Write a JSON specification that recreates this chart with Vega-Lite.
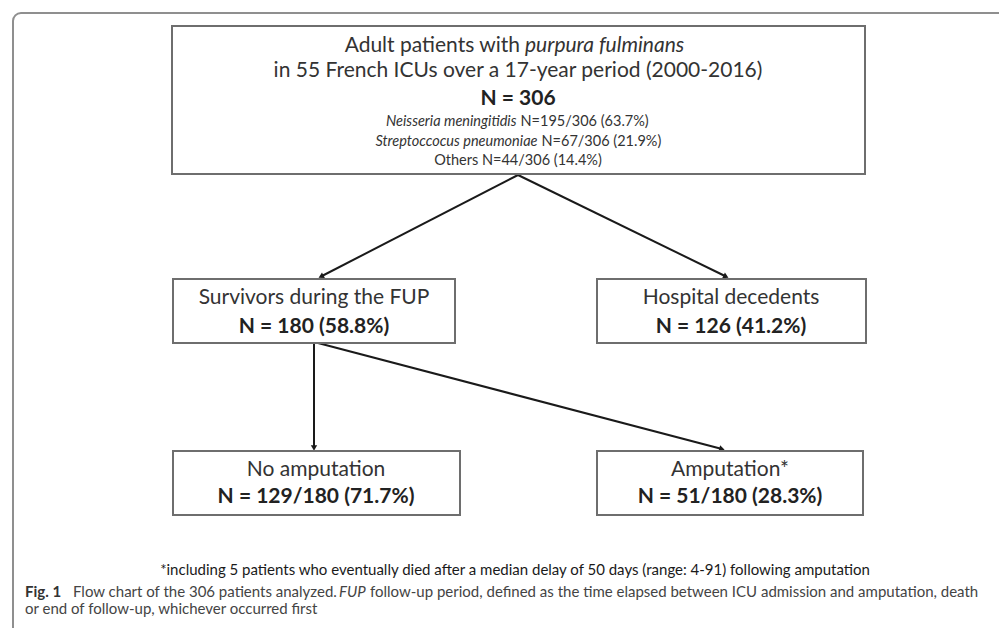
{
  "$schema": "https://vega.github.io/schema/vega-lite/v6.json",
  "width": 999,
  "height": 628,
  "autosize": {"type": "fit", "contains": "padding"},
  "padding": 0,
  "background": "white",
  "config": {"view": {"stroke": null}, "text": {"font": "Lato"}},
  "datasets": {
    "frame": [{"x1": 13, "x2": 1012, "y1": 13, "y2": 645}],
    "boxes": [
      {"node": "All patients", "x1": 172, "x2": 865, "y1": 26, "y2": 174},
      {"node": "Survivors", "x1": 173, "x2": 455, "y1": 279, "y2": 343},
      {"node": "Decedents", "x1": 597, "x2": 866, "y1": 279, "y2": 343},
      {"node": "No amputation", "x1": 173, "x2": 460, "y1": 451, "y2": 515},
      {"node": "Amputation", "x1": 597, "x2": 863, "y1": 451, "y2": 515}
    ],
    "edges": [
      {"from": "All patients", "to": "Survivors", "x1": 518, "y1": 175, "x2": 321, "y2": 276.5, "heading": 62.6},
      {"from": "All patients", "to": "Decedents", "x1": 518, "y1": 175, "x2": 726, "y2": 276.5, "heading": 296.1},
      {"from": "Survivors", "to": "No amputation", "x1": 314, "y1": 343, "x2": 314, "y2": 448, "heading": 0},
      {"from": "Survivors", "to": "Amputation", "x1": 318, "y1": 343, "x2": 722, "y2": 449, "heading": 284.7}
    ],
    "labels": [
      {"role": "titleR", "x": 520, "y": 46, "text": "Adult patients with"},
      {"role": "titleI", "x": 525, "y": 46, "text": "purpura fulminans"},
      {"role": "title", "x": 518, "y": 71, "text": "in 55 French ICUs over a 17-year period (2000-2016)"},
      {"role": "count", "x": 518, "y": 99, "text": "N = 306"},
      {"role": "smallI", "x": 516.5, "y": 122, "text": "Neisseria meningitidis"},
      {"role": "smallN", "x": 520.5, "y": 122, "text": "N=195/306 (63.7%)"},
      {"role": "smallI", "x": 537.5, "y": 142, "text": "Streptoccocus pneumoniae"},
      {"role": "smallN", "x": 541.5, "y": 142, "text": "N=67/306 (21.9%)"},
      {"role": "small", "x": 518, "y": 161, "text": "Others N=44/306 (14.4%)"},
      {"role": "title", "x": 314, "y": 298, "text": "Survivors during the FUP"},
      {"role": "count", "x": 314, "y": 327, "text": "N = 180 (58.8%)"},
      {"role": "title", "x": 731, "y": 298, "text": "Hospital decedents"},
      {"role": "count", "x": 731, "y": 327, "text": "N = 126 (41.2%)"},
      {"role": "title", "x": 316, "y": 470, "text": "No amputation"},
      {"role": "count", "x": 316, "y": 497, "text": "N = 129/180 (71.7%)"},
      {"role": "title", "x": 730, "y": 470, "text": "Amputation*"},
      {"role": "count", "x": 730, "y": 497, "text": "N = 51/180 (28.3%)"},
      {"role": "note", "x": 515, "y": 570, "text": "*including 5 patients who eventually died after a median delay of 50 days (range: 4-91) following amputation"},
      {"role": "capB", "x": 25, "y": 592, "text": "Fig. 1"},
      {"role": "cap", "x": 73, "y": 592, "text": "Flow chart of the 306 patients analyzed."},
      {"role": "capI", "x": 339, "y": 592, "text": "FUP"},
      {"role": "cap", "x": 370, "y": 592, "text": "follow-up period, defined as the time elapsed between ICU admission and amputation, death"},
      {"role": "cap", "x": 25, "y": 609, "text": "or end of follow-up, whichever occurred first"}
    ]
  },
  "layer": [
    {
      "data": {"name": "frame"},
      "mark": {"type": "rect", "fill": null, "fillOpacity": 0, "stroke": "#8f8f8f", "strokeWidth": 2, "cornerRadius": 8, "clip": true},
      "encoding": {
        "x": {"field": "x1", "type": "quantitative", "scale": {"domain": [0, 999], "nice": false, "zero": false}, "axis": null},
        "x2": {"field": "x2"},
        "y": {"field": "y1", "type": "quantitative", "scale": {"domain": [0, 628], "nice": false, "zero": false, "reverse": true}, "axis": null},
        "y2": {"field": "y2"}
      }
    },
    {
      "data": {"name": "edges"},
      "mark": {"type": "rule", "stroke": "#1a1a1a", "strokeWidth": 2},
      "encoding": {
        "x": {"field": "x1", "type": "quantitative", "scale": {"domain": [0, 999], "nice": false, "zero": false}, "axis": null},
        "x2": {"field": "x2"},
        "y": {"field": "y1", "type": "quantitative", "scale": {"domain": [0, 628], "nice": false, "zero": false, "reverse": true}, "axis": null},
        "y2": {"field": "y2"}
      }
    },
    {
      "data": {"name": "edges"},
      "mark": {"type": "point", "shape": "triangle-down", "filled": true, "fill": "#1a1a1a", "opacity": 1, "size": 40, "strokeWidth": 0},
      "encoding": {
        "x": {"field": "x2", "type": "quantitative", "scale": {"domain": [0, 999], "nice": false, "zero": false}, "axis": null},
        "y": {"field": "y2", "type": "quantitative", "scale": {"domain": [0, 628], "nice": false, "zero": false, "reverse": true}, "axis": null},
        "angle": {"field": "heading", "type": "quantitative", "scale": null}
      }
    },
    {
      "data": {"name": "boxes"},
      "mark": {"type": "rect", "fill": "white", "stroke": "#6e6e6e", "strokeWidth": 2},
      "encoding": {
        "x": {"field": "x1", "type": "quantitative", "scale": {"domain": [0, 999], "nice": false, "zero": false}, "axis": null},
        "x2": {"field": "x2"},
        "y": {"field": "y1", "type": "quantitative", "scale": {"domain": [0, 628], "nice": false, "zero": false, "reverse": true}, "axis": null},
        "y2": {"field": "y2"}
      }
    },
    {
      "data": {"name": "labels"},
      "encoding": {
        "x": {"field": "x", "type": "quantitative", "scale": {"domain": [0, 999], "nice": false, "zero": false}, "axis": null},
        "y": {"field": "y", "type": "quantitative", "scale": {"domain": [0, 628], "nice": false, "zero": false, "reverse": true}, "axis": null},
        "text": {"field": "text"}
      },
      "layer": [
        {"transform": [{"filter": "datum.role == 'title'"}], "mark": {"type": "text", "fontSize": 21, "color": "#333333", "align": "center", "baseline": "middle"}},
        {"transform": [{"filter": "datum.role == 'titleR'"}], "mark": {"type": "text", "fontSize": 21, "color": "#333333", "align": "right", "baseline": "middle"}},
        {"transform": [{"filter": "datum.role == 'titleI'"}], "mark": {"type": "text", "fontSize": 21, "fontStyle": "italic", "color": "#333333", "align": "left", "baseline": "middle"}},
        {"transform": [{"filter": "datum.role == 'count'"}], "mark": {"type": "text", "fontSize": 21, "fontWeight": "bold", "color": "#222222", "align": "center", "baseline": "middle"}},
        {"transform": [{"filter": "datum.role == 'small'"}], "mark": {"type": "text", "fontSize": 14.5, "color": "#333333", "align": "center", "baseline": "middle"}},
        {"transform": [{"filter": "datum.role == 'smallI'"}], "mark": {"type": "text", "fontSize": 14.5, "fontStyle": "italic", "color": "#333333", "align": "right", "baseline": "middle"}},
        {"transform": [{"filter": "datum.role == 'smallN'"}], "mark": {"type": "text", "fontSize": 14.5, "color": "#333333", "align": "left", "baseline": "middle"}},
        {"transform": [{"filter": "datum.role == 'note'"}], "mark": {"type": "text", "fontSize": 15, "color": "#1a1a1a", "align": "center", "baseline": "middle"}},
        {"transform": [{"filter": "datum.role == 'capB'"}], "mark": {"type": "text", "fontSize": 15, "fontWeight": "bold", "color": "#333333", "align": "left", "baseline": "middle"}},
        {"transform": [{"filter": "datum.role == 'cap'"}], "mark": {"type": "text", "fontSize": 15, "color": "#444444", "align": "left", "baseline": "middle"}},
        {"transform": [{"filter": "datum.role == 'capI'"}], "mark": {"type": "text", "fontSize": 15, "fontStyle": "italic", "color": "#444444", "align": "left", "baseline": "middle"}}
      ]
    }
  ]
}
